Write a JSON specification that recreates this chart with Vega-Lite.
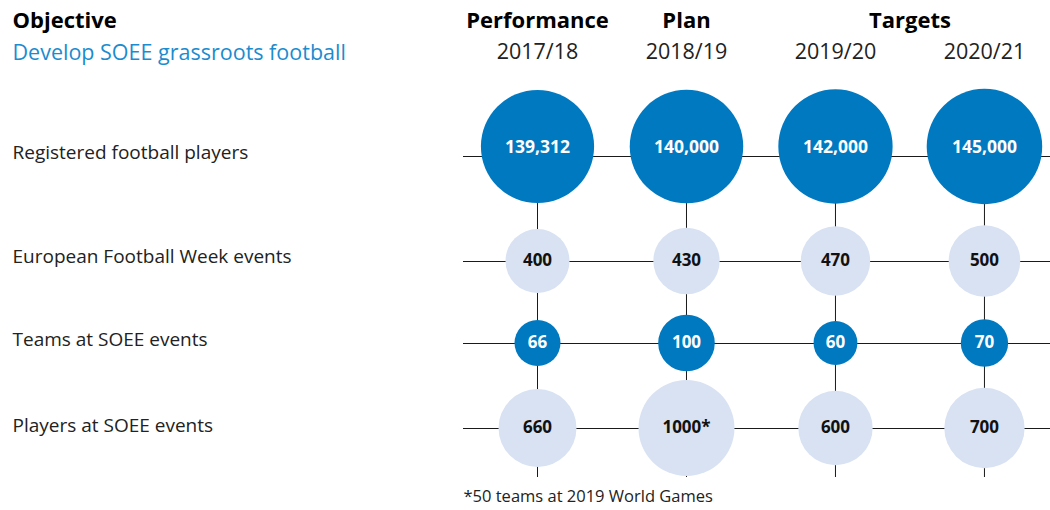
{
  "$schema": "https://vega.github.io/schema/vega-lite/v6.json",
  "padding": {"left": 12, "top": 0, "right": 0, "bottom": 0},
  "background": "white",
  "spacing": 0,
  "bounds": "flush",
  "resolve": {"scale": {"size": "independent"}},
  "config": {"view": {"stroke": null}, "font": "Open Sans", "concat": {"spacing": 0}},
  "datasets": {
    "cells": [
      {"row": "Registered football players", "year": "2017/18", "value": 139312, "label": "139,312"},
      {"row": "Registered football players", "year": "2018/19", "value": 140000, "label": "140,000"},
      {"row": "Registered football players", "year": "2019/20", "value": 142000, "label": "142,000"},
      {"row": "Registered football players", "year": "2020/21", "value": 145000, "label": "145,000"},
      {"row": "European Football Week events", "year": "2017/18", "value": 400, "label": "400"},
      {"row": "European Football Week events", "year": "2018/19", "value": 430, "label": "430"},
      {"row": "European Football Week events", "year": "2019/20", "value": 470, "label": "470"},
      {"row": "European Football Week events", "year": "2020/21", "value": 500, "label": "500"},
      {"row": "Teams at SOEE events", "year": "2017/18", "value": 66, "label": "66"},
      {"row": "Teams at SOEE events", "year": "2018/19", "value": 100, "label": "100"},
      {"row": "Teams at SOEE events", "year": "2019/20", "value": 60, "label": "60"},
      {"row": "Teams at SOEE events", "year": "2020/21", "value": 70, "label": "70"},
      {"row": "Players at SOEE events", "year": "2017/18", "value": 660, "label": "660"},
      {"row": "Players at SOEE events", "year": "2018/19", "value": 1000, "label": "1000*"},
      {"row": "Players at SOEE events", "year": "2019/20", "value": 600, "label": "600"},
      {"row": "Players at SOEE events", "year": "2020/21", "value": 700, "label": "700"}
    ],
    "headers": [
      {"year": "2017/18", "line": "Objective", "text": "Performance"},
      {"year": "2018/19", "line": "Objective", "text": "Plan"},
      {"year": "2019/20", "line": "Objective", "text": "Targets"},
      {"year": "2017/18", "line": "Develop SOEE grassroots football", "text": "2017/18"},
      {"year": "2018/19", "line": "Develop SOEE grassroots football", "text": "2018/19"},
      {"year": "2019/20", "line": "Develop SOEE grassroots football", "text": "2019/20"},
      {"year": "2020/21", "line": "Develop SOEE grassroots football", "text": "2020/21"}
    ]
  },
  "vconcat": [
    {
      "width": 587, "height": 97,
      "data": {"name": "headers"},
      "encoding": {
        "x": {"field": "year", "type": "nominal", "sort": ["2017/18", "2018/19", "2019/20", "2020/21"], "scale": {"type": "point", "padding": 0.47, "align": 0.532}, "axis": null},
        "y": {"field": "line", "type": "nominal", "sort": ["Objective", "Develop SOEE grassroots football"], "scale": {"type": "point", "padding": 1.0156, "align": 0.323},
          "axis": {"title": null, "domain": false, "ticks": false, "tickSize": 0, "labelAlign": "left", "labelPadding": 451, "labelLimit": 440, "labelBaseline": "middle",
            "labelFontSize": {"condition": {"test": "datum.value == 'Objective'", "value": 22}, "value": 21.5},
            "labelFontWeight": {"condition": {"test": "datum.value == 'Objective'", "value": "bold"}, "value": "normal"},
            "labelColor": {"condition": {"test": "datum.value == 'Objective'", "value": "#000000"}, "value": "#1a8ccf"}}}
      },
      "layer": [
        {"transform": [{"filter": "datum.line == 'Objective' && datum.text != 'Targets'"}],
         "mark": {"type": "text", "fontSize": 22, "fontWeight": "bold", "color": "#000000", "baseline": "middle"},
         "encoding": {"text": {"field": "text"}}},
        {"transform": [{"filter": "datum.text == 'Targets'"}],
         "mark": {"type": "text", "fontSize": 22, "fontWeight": "bold", "color": "#000000", "baseline": "middle", "dx": 74.5},
         "encoding": {"text": {"field": "text"}}},
        {"transform": [{"filter": "datum.line != 'Objective'"}],
         "mark": {"type": "text", "fontSize": 21.5, "color": "#222222", "baseline": "middle"},
         "encoding": {"text": {"field": "text"}}}
      ]
    },
    {
      "width": 587, "height": 118,
      "data": {"name": "cells"},
      "transform": [{"filter": "datum.row == 'Registered football players'"}],
      "encoding": {
        "y": {"field": "row", "type": "nominal", "axis": {"title": null, "domain": false, "ticks": false, "tickSize": 0, "labelAlign": "left", "labelPadding": 451, "labelLimit": 440, "labelFontSize": 19, "labelColor": "#222222", "labelOffset": -3}}
      },
      "layer": [
        {"transform": [{"aggregate": [{"op": "count", "as": "n"}], "groupby": ["row"]}],
         "mark": {"type": "rule", "color": "#1a1a1a", "strokeWidth": 1, "yOffset": 0.5}, "encoding": {}},
        {"mark": {"type": "rule", "color": "#1a1a1a", "strokeWidth": 1},
         "encoding": {"x": {"field": "year", "type": "nominal", "sort": ["2017/18", "2018/19", "2019/20", "2020/21"], "scale": {"type": "point", "padding": 0.47, "align": 0.532}, "axis": null}, "y": null}},
        {"mark": {"type": "point", "filled": true, "opacity": 1, "color": "#0079c1", "strokeWidth": 0, "yOffset": -9.5},
         "encoding": {"x": {"field": "year", "type": "nominal", "sort": ["2017/18", "2018/19", "2019/20", "2020/21"], "scale": {"type": "point", "padding": 0.47, "align": 0.532}, "axis": null},
           "size": {"field": "value", "type": "quantitative", "scale": {"domain": [0, 145000], "range": [0, 13340]}, "legend": null}}},
        {"mark": {"type": "text", "fontSize": 17.5, "fontWeight": "bold", "color": "#ffffff", "yOffset": -8},
         "encoding": {"x": {"field": "year", "type": "nominal", "sort": ["2017/18", "2018/19", "2019/20", "2020/21"], "scale": {"type": "point", "padding": 0.47, "align": 0.532}, "axis": null},
           "text": {"field": "label"}}}
      ]
    },
    {
      "width": 587, "height": 92,
      "data": {"name": "cells"},
      "transform": [{"filter": "datum.row == 'European Football Week events'"}],
      "encoding": {
        "y": {"field": "row", "type": "nominal", "axis": {"title": null, "domain": false, "ticks": false, "tickSize": 0, "labelAlign": "left", "labelPadding": 451, "labelLimit": 440, "labelFontSize": 19, "labelColor": "#222222", "labelOffset": -4.5}}
      },
      "layer": [
        {"transform": [{"aggregate": [{"op": "count", "as": "n"}], "groupby": ["row"]}],
         "mark": {"type": "rule", "color": "#1a1a1a", "strokeWidth": 1, "yOffset": 0.5}, "encoding": {}},
        {"mark": {"type": "rule", "color": "#1a1a1a", "strokeWidth": 1},
         "encoding": {"x": {"field": "year", "type": "nominal", "sort": ["2017/18", "2018/19", "2019/20", "2020/21"], "scale": {"type": "point", "padding": 0.47, "align": 0.532}, "axis": null}, "y": null}},
        {"mark": {"type": "point", "filled": true, "opacity": 1, "color": "#d8e2f3", "strokeWidth": 0},
         "encoding": {"x": {"field": "year", "type": "nominal", "sort": ["2017/18", "2018/19", "2019/20", "2020/21"], "scale": {"type": "point", "padding": 0.47, "align": 0.532}, "axis": null},
           "size": {"field": "value", "type": "quantitative", "scale": {"domain": [0, 500], "range": [0, 5127]}, "legend": null}}},
        {"mark": {"type": "text", "fontSize": 17, "fontWeight": "bold", "color": "#111111"},
         "encoding": {"x": {"field": "year", "type": "nominal", "sort": ["2017/18", "2018/19", "2019/20", "2020/21"], "scale": {"type": "point", "padding": 0.47, "align": 0.532}, "axis": null},
           "text": {"field": "label"}}}
      ]
    },
    {
      "width": 587, "height": 72,
      "data": {"name": "cells"},
      "transform": [{"filter": "datum.row == 'Teams at SOEE events'"}],
      "encoding": {
        "y": {"field": "row", "type": "nominal", "axis": {"title": null, "domain": false, "ticks": false, "tickSize": 0, "labelAlign": "left", "labelPadding": 451, "labelLimit": 440, "labelFontSize": 19, "labelColor": "#222222", "labelOffset": -3}}
      },
      "layer": [
        {"transform": [{"aggregate": [{"op": "count", "as": "n"}], "groupby": ["row"]}],
         "mark": {"type": "rule", "color": "#1a1a1a", "strokeWidth": 1, "yOffset": 0.5}, "encoding": {}},
        {"mark": {"type": "rule", "color": "#1a1a1a", "strokeWidth": 1},
         "encoding": {"x": {"field": "year", "type": "nominal", "sort": ["2017/18", "2018/19", "2019/20", "2020/21"], "scale": {"type": "point", "padding": 0.47, "align": 0.532}, "axis": null}, "y": null}},
        {"mark": {"type": "point", "filled": true, "opacity": 1, "color": "#0079c1", "strokeWidth": 0},
         "encoding": {"x": {"field": "year", "type": "nominal", "sort": ["2017/18", "2018/19", "2019/20", "2020/21"], "scale": {"type": "point", "padding": 0.47, "align": 0.532}, "axis": null},
           "size": {"field": "value", "type": "quantitative", "scale": {"domain": [0, 100], "range": [0, 3204]}, "legend": null}}},
        {"mark": {"type": "text", "fontSize": 17, "fontWeight": "bold", "color": "#ffffff"},
         "encoding": {"x": {"field": "year", "type": "nominal", "sort": ["2017/18", "2018/19", "2019/20", "2020/21"], "scale": {"type": "point", "padding": 0.47, "align": 0.532}, "axis": null},
           "text": {"field": "label"}}}
      ]
    },
    {
      "width": 587, "height": 98,
      "data": {"name": "cells"},
      "transform": [{"filter": "datum.row == 'Players at SOEE events'"}],
      "encoding": {
        "y": {"field": "row", "type": "nominal", "axis": {"title": null, "domain": false, "ticks": false, "tickSize": 0, "labelAlign": "left", "labelPadding": 451, "labelLimit": 440, "labelFontSize": 19, "labelColor": "#222222", "labelOffset": -2.5}}
      },
      "layer": [
        {"transform": [{"aggregate": [{"op": "count", "as": "n"}], "groupby": ["row"]}],
         "mark": {"type": "rule", "color": "#1a1a1a", "strokeWidth": 1, "yOffset": 0.5}, "encoding": {}},
        {"mark": {"type": "rule", "color": "#1a1a1a", "strokeWidth": 1},
         "encoding": {"x": {"field": "year", "type": "nominal", "sort": ["2017/18", "2018/19", "2019/20", "2020/21"], "scale": {"type": "point", "padding": 0.47, "align": 0.532},
           "axis": {"orient": "bottom", "labels": false, "ticks": false, "domain": false, "title": "*50 teams at 2019 World Games", "titleAnchor": "start", "titleAlign": "left", "titleFontWeight": "normal", "titleFontSize": 16.5, "titleColor": "#222222", "titlePadding": 11}}, "y": null}},
        {"mark": {"type": "point", "filled": true, "opacity": 1, "color": "#d8e2f3", "strokeWidth": 0},
         "encoding": {"x": {"field": "year", "type": "nominal", "sort": ["2017/18", "2018/19", "2019/20", "2020/21"], "scale": {"type": "point", "padding": 0.47, "align": 0.532},
           "axis": {"orient": "bottom", "labels": false, "ticks": false, "domain": false, "title": "*50 teams at 2019 World Games", "titleAnchor": "start", "titleAlign": "left", "titleFontWeight": "normal", "titleFontSize": 16.5, "titleColor": "#222222", "titlePadding": 11}},
           "size": {"field": "value", "type": "quantitative", "scale": {"domain": [0, 1000], "range": [0, 9216]}, "legend": null}}},
        {"mark": {"type": "text", "fontSize": 17, "fontWeight": "bold", "color": "#111111"},
         "encoding": {"x": {"field": "year", "type": "nominal", "sort": ["2017/18", "2018/19", "2019/20", "2020/21"], "scale": {"type": "point", "padding": 0.47, "align": 0.532},
           "axis": {"orient": "bottom", "labels": false, "ticks": false, "domain": false, "title": "*50 teams at 2019 World Games", "titleAnchor": "start", "titleAlign": "left", "titleFontWeight": "normal", "titleFontSize": 16.5, "titleColor": "#222222", "titlePadding": 11}},
           "text": {"field": "label"}}}
      ]
    }
  ]
}
